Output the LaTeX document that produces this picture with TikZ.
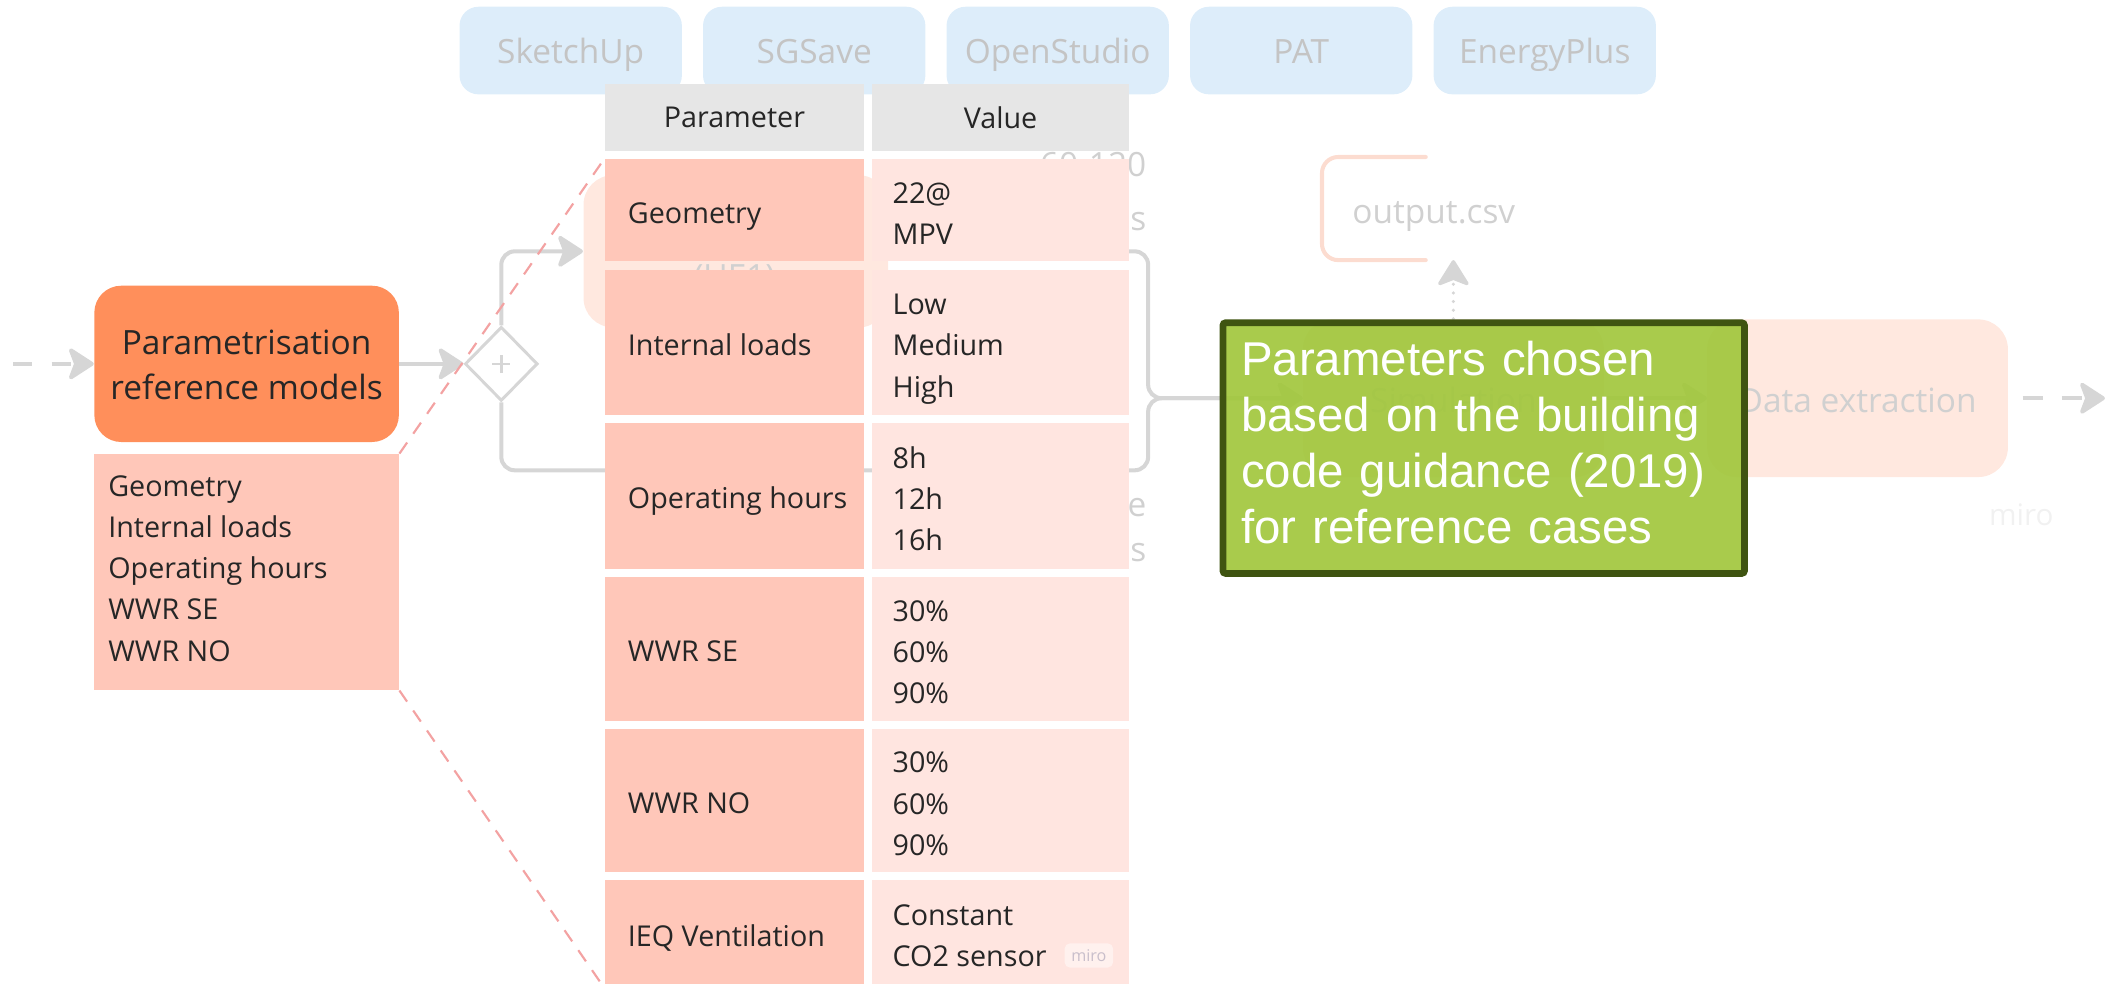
\documentclass[tikz,border=0pt]{standalone}
\usepackage{fontspec}
\setmainfont{Open Sans}
\newfontfamily\arialf{Liberation Sans}
\usetikzlibrary{arrows.meta,shapes.geometric,calc}
\definecolor{orangebox}{HTML}{FF8F5B}
\definecolor{salmon}{HTML}{FFC7B9}
\definecolor{salmonl}{HTML}{FFE5E0}
\definecolor{hdr}{HTML}{E6E6E6}
\definecolor{toolfill}{HTML}{DDEDFA}
\definecolor{tooltext}{HTML}{C4C4C4}
\definecolor{peach}{HTML}{FFE8DF}
\definecolor{conn}{HTML}{D6D6D6}
\definecolor{reddash}{HTML}{F3A2A2}
\definecolor{greenf}{HTML}{A2C73E}
\definecolor{greenb}{HTML}{3F5411}
\definecolor{txt}{HTML}{262626}
\definecolor{faint}{HTML}{D0D0D0}
\definecolor{bracketc}{HTML}{FCDCD0}
\definecolor{wm}{HTML}{F1F1F1}
\definecolor{badgef}{HTML}{FFF1EE}
\definecolor{badget}{HTML}{C9BFCB}
\begin{document}
\begin{tikzpicture}[x=0.5pt,y=-0.5pt,
  tool/.style={rectangle, rounded corners=7pt, fill=toolfill, minimum width=82.5pt, minimum height=32.5pt, text=tooltext, font=\fontsize{12.4}{17}\selectfont, inner sep=0pt, text height=10pt, text depth=0.6pt},
  peachbox/.style={rectangle, rounded corners=11pt, fill=peach, minimum width=111.5pt, minimum height=58.5pt, text=faint, font=\fontsize{12.4}{17}\selectfont, inner sep=0pt, text height=10.4pt, text depth=0pt},
  faintt/.style={text=faint, font=\fontsize{12.4}{17}\selectfont, inner sep=0pt},
  pbox/.style={rectangle, rounded corners=10pt, fill=orangebox, minimum width=113pt, minimum height=58pt, inner sep=0pt},
  ptext/.style={text=txt, align=center, font=\fontsize{12.4}{17}\selectfont, inner sep=0pt},
  lbox/.style={rectangle, fill=salmon, minimum width=113pt, minimum height=87.5pt, inner sep=0pt},
  hcell/.style={rectangle, fill=hdr, minimum height=25pt, text=txt, font=\fontsize{10.65}{15.25}\selectfont, inner sep=0pt},
  pcell/.style={rectangle, fill=salmon, minimum width=96pt, inner sep=0pt},
  vcell/.style={rectangle, fill=salmonl, minimum width=95.5pt, inner sep=0pt},
  ctext/.style={anchor=west, inner sep=0pt, align=left, text=txt, font=\fontsize{10.65}{15.25}\selectfont},
  flow/.style={draw=conn, line width=1.5pt, -{Stealth[length=10.5pt,width=13.5pt,inset=2.5pt,round]}},
  dflow/.style={flow, dash pattern=on 7pt off 7.2pt},
  dotflow/.style={draw=conn, line width=1.3pt, line cap=round, dash pattern=on 0pt off 3.2pt, -{Stealth[length=10.5pt,width=13pt,inset=2.5pt,round]}},
  reddashed/.style={draw=reddash, line width=0.8pt, dash pattern=on 5pt off 4pt},
  greenbox/.style={rectangle, draw=greenb, line width=2.5pt, fill=greenf, fill opacity=0.93, text opacity=1, text=white, minimum width=193.5pt, minimum height=93pt, text width=180pt, align=left, inner xsep=6.75pt, inner ysep=0pt, font=\arialf\fontsize{17.6}{20.8}\selectfont, rounded corners=1pt}
]
\useasboundingbox (0,0) rectangle (1568,730);
\clip (0,0) rectangle (1568,730);

% tools row
\node[tool] (t1) at (423.5,37.5) {SketchUp};
\node[tool] (t2) at (604.2,37.5) {SGSave};
\node[tool] (t3) at (784.9,37.5) {OpenStudio};
\node[tool] (t4) at (965.6,37.5) {PAT};
\node[tool] (t5) at (1146.3,37.5) {EnergyPlus};

% hidden box behind the table
\node[peachbox, minimum width=113pt, minimum height=56.5pt] (ue1) at (546,186.5) {};
\node[faintt] (ue1t) at (545,207) {(UE1)};
\node[faintt, anchor=base east] (f1) at (851,131) {60-120};
\node[faintt, anchor=base east] (f2) at (851,171) {s};
\node[faintt, anchor=base east] (f3) at (851,383) {e};
\node[faintt, anchor=base east] (f4) at (851,417) {s};

% main boxes
\node[pbox] (param) at (183,270) {};
\node[ptext] (paramt) at ([yshift=-1.5pt]param.center) {\strut Parametrisation\\\strut reference models};
\node[lbox] (list) at (183,424.5) {};
\node[ctext] (listt) at (80,423.4) {\strut Geometry\\\strut Internal loads\\\strut Operating hours\\\strut WWR SE\\\strut WWR NO};
\node[diamond, draw=conn, fill=white, line width=1.1pt, minimum width=27pt, minimum height=27.5pt, inner sep=0pt] (dia) at (372,270) {};
\draw[conn, line width=0.9pt] ([xshift=-3.4pt]dia.center) -- ([xshift=3.4pt]dia.center);
\draw[conn, line width=0.9pt] ([yshift=-3.4pt]dia.center) -- ([yshift=3.4pt]dia.center);

\node[peachbox] (sim) at (1078.5,295.5) {Simulation};
\node[peachbox] (dex) at (1378.5,295.5) {Data extraction};

% output.csv
\draw[bracketc, line width=1.5pt, line cap=round, rounded corners=6pt] (1058,116.5) -- (981,116.5) -- (981,193) -- (1058,193);
\node[faintt] (out) at (1064,161) {output.csv};

% connectors
\coordinate (lstart) at (10,270);
\coordinate (merge) at (852,295.5);
\coordinate (lowc) at (852,349);
\coordinate (outtip) at (1078.5,193);
\coordinate (rstart) at (1501,295.5);
\coordinate (rend) at (1562,295.5);
\draw[dflow] (lstart) -- (param.west);
\draw[flow] (param.east) -- (dia.west);
\draw[flow, rounded corners=5pt] (dia.north) |- (ue1.west);
\draw[flow, rounded corners=5pt] (ue1.east) -| (merge) -- (sim.west);
\draw[flow, rounded corners=5pt] (dia.south) |- (lowc) -- (merge) -- (sim.west);
\draw[flow] (sim.east) -- (dex.west);
\draw[dotflow] (sim.north) -- (outtip);
\draw[dflow, dash pattern=on 7.5pt off 7pt] (rstart) -- (rend);

% table
\node[hcell, minimum width=96pt] (hp) at (545,87) {Parameter};
\node[hcell, minimum width=95.5pt] (hv) at (742.5,87) {Value};

\node[pcell, minimum height=38pt] (p1) at (545,156) {};
\node[vcell, minimum height=38pt] (v1) at (742.5,156) {};
\node[pcell, minimum height=54pt] (p2) at (545,254) {};
\node[vcell, minimum height=54pt] (v2) at (742.5,254) {};
\node[pcell, minimum height=54pt] (p3) at (545,368) {};
\node[vcell, minimum height=54pt] (v3) at (742.5,368) {};
\node[pcell, minimum height=53.5pt] (p4) at (545,481.5) {};
\node[vcell, minimum height=53.5pt] (v4) at (742.5,481.5) {};
\node[pcell, minimum height=53pt] (p5) at (545,594) {};
\node[vcell, minimum height=53pt] (v5) at (742.5,594) {};
\node[pcell, minimum height=40pt] (p6) at (545,693) {};
\node[vcell, minimum height=40pt] (v6) at (742.5,693) {};

\node[ctext] (p1t) at ([xshift=8.5pt,yshift=-2pt]p1.west) {\strut Geometry};
\node[ctext] (p2t) at ([xshift=8.5pt,yshift=-1.8pt]p2.west) {\strut Internal loads};
\node[ctext] (p3t) at ([xshift=8.5pt,yshift=-1.8pt]p3.west) {\strut Operating hours};
\node[ctext] (p4t) at ([xshift=8.5pt,yshift=-1.8pt]p4.west) {\strut WWR SE};
\node[ctext] (p5t) at ([xshift=8.5pt,yshift=-1.8pt]p5.west) {\strut WWR NO};
\node[ctext] (p6t) at ([xshift=8.5pt,yshift=-1.8pt]p6.west) {\strut IEQ Ventilation};

\node[ctext] (v1t) at ([xshift=7.7pt,yshift=-2pt]v1.west) {\strut 22@\\\strut MPV};
\node[ctext] (v2t) at ([xshift=7.7pt,yshift=-2pt]v2.west) {\strut Low\\\strut Medium\\\strut High};
\node[ctext] (v3t) at ([xshift=7.7pt,yshift=-2pt]v3.west) {\strut 8h\\\strut 12h\\\strut 16h};
\node[ctext] (v4t) at ([xshift=7.7pt,yshift=-2pt]v4.west) {\strut 30\%\\\strut 60\%\\\strut 90\%};
\node[ctext] (v5t) at ([xshift=7.7pt,yshift=-2pt]v5.west) {\strut 30\%\\\strut 60\%\\\strut 90\%};
\node[ctext] (v6t) at ([xshift=7.7pt,yshift=-1.5pt]v6.west) {\strut Constant\\\strut CO2 sensor};
\node[rectangle, fill=badgef, rounded corners=2pt, text=badget, font=\fontsize{6}{7}\selectfont, minimum width=18pt, minimum height=9pt, inner sep=0pt] (badge) at (808,709) {miro};

% zoom lines
\draw[reddashed] (list.north east) -- (p1.north west);
\draw[reddashed] (list.south east) -- (p6.south west);

% note
\node[greenbox] (note) at (1101,332.5) {\strut Parameters chosen\\\strut based on the building\\\strut code guidance (2019)\\\strut for reference cases};

\node[text=wm, font=\fontsize{11}{13}\selectfont, inner sep=0pt] (miro) at (1500,382) {miro};
\end{tikzpicture}
\end{document}
